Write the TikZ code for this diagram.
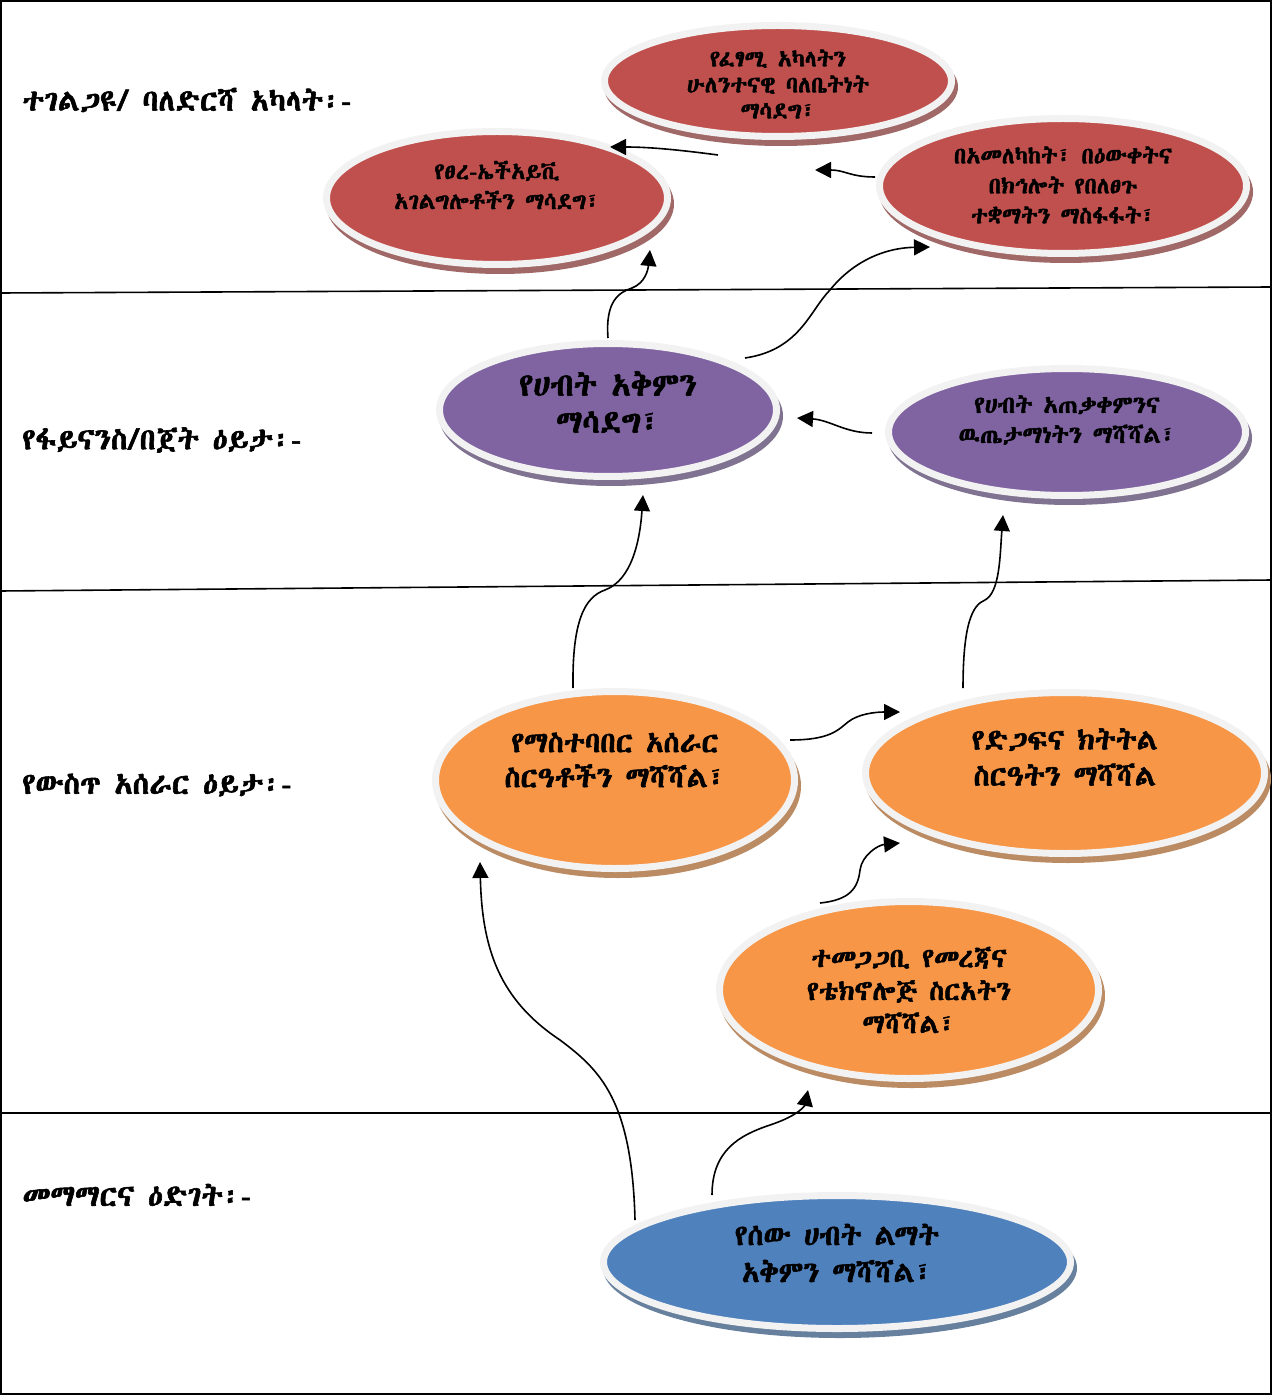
\documentclass[tikz,border=0pt]{standalone}
\usepackage{fontspec}
\usetikzlibrary{shapes.geometric,arrows.meta}
\IfFontExistsTF{Abyssinica SIL}
  {\newfontfamily\ethfont{Abyssinica SIL}[Script=Ethiopic,AutoFakeBold=2]}
  {\IfFontExistsTF{FreeSerif}
    {\newfontfamily\ethfont{FreeSerif}[Script=Ethiopic,AutoFakeBold=2]}
    {\IfFontExistsTF{FreeSerif.otf}
      {\newfontfamily\ethfont{FreeSerif.otf}[Script=Ethiopic,AutoFakeBold=2]}
      {\newfontfamily\ethfont{DejaVu Sans}}}}
\definecolor{cRed}{HTML}{C0504D}
\definecolor{cPur}{HTML}{8064A2}
\definecolor{cOra}{HTML}{F79646}
\definecolor{cBlu}{HTML}{4F81BD}
\definecolor{rim}{HTML}{F2F2F2}
\tikzset{
  goal/.style={ellipse, draw=rim, line width=3.5pt, inner sep=0pt, outer sep=0pt},
  gtext/.style={align=center, inner sep=0pt, font=\ethfont\bfseries},
  lab/.style={anchor=west, inner sep=0pt, font=\ethfont\bfseries\fontsize{15}{18}\selectfont},
  arr/.style={-{Triangle[length=8pt,width=8pt]}, line width=0.8pt},
  sep/.style={line width=0.8pt},
}
\begin{document}
\begin{tikzpicture}[x=0.5pt,y=-0.5pt]
\useasboundingbox (0,0) rectangle (1272,1395);
\draw[line width=1pt] (1,1) rectangle (1271,1394);
% lane separators
\draw[sep] (0,293) -- (1272,287);
\draw[sep] (0,591) -- (1272,580);
\draw[sep] (0,1113) -- (1272,1113);
% lane labels
\node[lab] (L1) at (22,100) {ተገልጋዩ/ ባለድርሻ አካላት፡-};
\node[lab] (L2) at (22,440) {የፋይናንስ/በጀት ዕይታ፡-};
\node[lab] (L3) at (22,785) {የውስጥ አሰራር ዕይታ፡-};
\node[lab] (L4) at (22,1195) {መማማርና ዕድገት፡-};
% shadows
\fill[cRed!50!gray, shift={(3,6)}] (778,81) ellipse [x radius=177, y radius=59];
\fill[cRed!50!gray, shift={(3,6)}] (497,198) ellipse [x radius=174, y radius=70];
\fill[cRed!50!gray, shift={(3,6)}] (1063,186) ellipse [x radius=187, y radius=71];
\fill[cPur!50!gray, shift={(3,6)}] (608,410) ellipse [x radius=172, y radius=70];
\fill[cPur!50!gray, shift={(3,6)}] (1067,432) ellipse [x radius=182, y radius=67];
\fill[cOra!50!gray, shift={(3,6)}] (615,780) ellipse [x radius=183, y radius=92];
\fill[cOra!50!gray, shift={(3,6)}] (1065,773) ellipse [x radius=203, y radius=84];
\fill[cOra!50!gray, shift={(3,6)}] (909,990) ellipse [x radius=193, y radius=92];
\fill[cBlu!50!gray, shift={(3,6)}] (837,1262) ellipse [x radius=237, y radius=70];
% goal ellipses
\node[goal, fill=cRed, minimum width=173.5pt, minimum height=55.5pt] (e1) at (778,81) {};
\node[goal, fill=cRed, minimum width=170.5pt, minimum height=66.5pt] (e2) at (497,198) {};
\node[goal, fill=cRed, minimum width=183.5pt, minimum height=67.5pt] (e3) at (1063,186) {};
\node[goal, fill=cPur, minimum width=168.5pt, minimum height=66.5pt] (e4) at (608,410) {};
\node[goal, fill=cPur, minimum width=178.5pt, minimum height=63.5pt] (e5) at (1067,432) {};
\node[goal, fill=cOra, minimum width=179.5pt, minimum height=88.5pt] (e6) at (615,780) {};
\node[goal, fill=cOra, minimum width=199.5pt, minimum height=80.5pt] (e7) at (1065,773) {};
\node[goal, fill=cOra, minimum width=189.5pt, minimum height=88.5pt] (e8) at (909,990) {};
\node[goal, fill=cBlu, minimum width=233.5pt, minimum height=66.5pt] (e9) at (837,1262) {};
% goal texts
\node[gtext, font=\ethfont\bfseries\fontsize{11.5}{13}\selectfont] (t1) at (778,84) {የፈፃሚ አካላትን\\ሁለንተናዊ ባለቤትነት\\ማሳደግ፣};
\node[gtext, font=\ethfont\bfseries\fontsize{11.5}{15}\selectfont] (t2) at (497,185) {የፀረ-ኤችአይቪ\\አገልግሎቶችን ማሳደግ፣};
\node[gtext, font=\ethfont\bfseries\fontsize{11.5}{15}\selectfont] (t3) at (1063,185) {በአመለካከት፣ በዕውቀትና\\በክኅሎት የበለፀጉ\\ተቋማትን ማስፋፋት፣};
\node[gtext, font=\ethfont\bfseries\fontsize{16}{18.5}\selectfont] (t4) at (608,402) {የሀብት አቅምን\\ማሳደግ፣};
\node[gtext, font=\ethfont\bfseries\fontsize{12}{15}\selectfont] (t5) at (1067,420) {የሀብት አጠቃቀምንና\\ዉጤታማነትን ማሻሻል፣};
\node[gtext, font=\ethfont\bfseries\fontsize{14.5}{17.5}\selectfont] (t6) at (615,760) {የማስተባበር አሰራር\\ስርዓቶችን ማሻሻል፣};
\node[gtext, font=\ethfont\bfseries\fontsize{14.5}{18}\selectfont] (t7) at (1065,757) {የድጋፍና ክትትል\\ስርዓትን ማሻሻል};
\node[gtext, font=\ethfont\bfseries\fontsize{13.5}{16.5}\selectfont] (t8) at (909,990) {ተመጋጋቢ የመረጃና\\የቴክኖሎጅ ስርአትን\\ማሻሻል፣};
\node[gtext, font=\ethfont\bfseries\fontsize{14.5}{18.5}\selectfont] (t9) at (837,1253) {የሰው ሀብት ልማት\\አቅምን ማሻሻል፣};
% connector end points
\coordinate (a1s) at (718,155);  \coordinate (a1e) at (610,147);
\coordinate (a2s) at (875,177);  \coordinate (a2e) at (815,170);
\coordinate (a3s) at (608,338);  \coordinate (a3e) at (650,250);
\coordinate (a4s) at (745,358);  \coordinate (a4e) at (930,247);
\coordinate (a5s) at (872,433);  \coordinate (a5e) at (797,418);
\coordinate (a6s) at (573,688);  \coordinate (a6e) at (643,495);
\coordinate (a7s) at (963,688);  \coordinate (a7e) at (1003,515);
\coordinate (a8s) at (790,740);  \coordinate (a8e) at (900,712);
\coordinate (a9s) at (820,903);  \coordinate (a9e) at (900,843);
\coordinate (a10s) at (635,1220); \coordinate (a10e) at (480,862);
\coordinate (a11s) at (712,1195); \coordinate (a11e) at (808,1090);
% connectors
\draw[arr] (a1s) .. controls (680,150) and (650,147) .. (a1e);
\draw[arr] (a2s) .. controls (850,177) and (845,170) .. (a2e);
\draw[arr] (a3s) .. controls (605,300) and (620,292) .. (632,288) .. controls (645,283) and (648,270) .. (a3e);
\draw[arr] (a4s) .. controls (800,350) and (810,310) .. (830,290) .. controls (850,265) and (880,248) .. (a4e);
\draw[arr] (a5s) .. controls (845,433) and (830,420) .. (a5e);
\draw[arr] (a6s) .. controls (572,620) and (585,597) .. (605,590) .. controls (632,580) and (640,540) .. (a6e);
\draw[arr] (a7s) .. controls (963,625) and (972,605) .. (985,600) .. controls (1000,592) and (1000,555) .. (a7e);
\draw[arr] (a8s) .. controls (830,740) and (838,730) .. (848,722) .. controls (858,714) and (875,712) .. (a8e);
\draw[arr] (a9s) .. controls (850,900) and (858,888) .. (860,870) .. controls (862,855) and (878,845) .. (a9e);
\draw[arr] (a10s) .. controls (632,1100) and (600,1070) .. (560,1040) .. controls (500,1000) and (482,950) .. (a10e);
\draw[arr] (a11s) .. controls (712,1150) and (740,1135) .. (770,1125) .. controls (800,1115) and (805,1105) .. (a11e);
\end{tikzpicture}
\end{document}
